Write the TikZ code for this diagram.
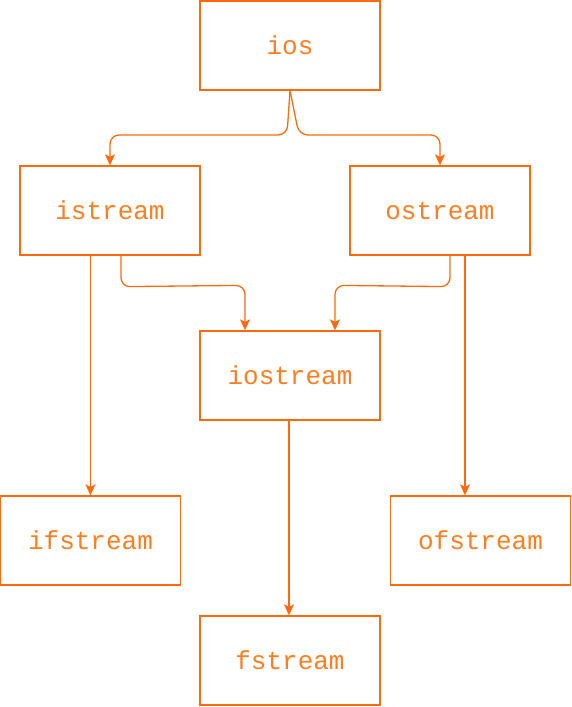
\documentclass[tikz,border=0pt]{standalone}
\usepackage{fontspec}
\setmonofont{Liberation Mono}
\usepackage{tikz}
\usetikzlibrary{positioning, arrows.meta, calc}
\definecolor{streamline}{HTML}{FF6A0D}
\definecolor{streamtext}{HTML}{FF7E22}

\begin{document}
\begin{tikzpicture}[
    x=1pt, y=-1pt,
    cls/.style={rectangle, draw=streamline, line width=1.3pt, fill=white,
                minimum width=180pt, minimum height=89pt, inner sep=0pt,
                text=streamtext, font=\ttfamily\fontsize{26}{30}\selectfont},
    link/.style={draw=streamline, line width=1.3pt, rounded corners=9pt,
                 -{Stealth[length=11pt, width=10pt, inset=2.5pt]}},
  ]
  \useasboundingbox (0,0) rectangle (572,707);

  % Class nodes
  \node[cls] (ios)      at (290,45.5)  {ios};
  \node[cls] (istream)  at (110,210.5) {istream};
  \node[cls] (ostream)  at (440,210.5) {ostream};
  \node[cls] (iostream) at (290,375.5) {iostream};
  \node[cls] (ifstream) at (90.5,540.5) {ifstream};
  \node[cls] (ofstream) at (480.5,540.5) {ofstream};
  \node[cls] (fstream)  at (290,660.5) {fstream};

  % Bends
  \coordinate (bendL) at (287,135);
  \coordinate (bendR) at (299,135);
  \coordinate (inL)   at ([xshift=-45pt]iostream.north);
  \coordinate (inR)   at ([xshift=45pt]iostream.north);
  \coordinate (outL)  at ([xshift=11pt]istream.south);
  \coordinate (outR)  at ([xshift=10pt]ostream.south);
  \coordinate (ofin)  at ([xshift=-15.5pt]ofstream.north);

  % ios -> istream / ostream
  \draw[link] (ios.south) -- (bendL) -- (istream.north |- bendL) -- (istream.north);
  \draw[link] (ios.south) -- (bendR) -- (ostream.north |- bendR) -- (ostream.north);

  % istream / ostream -> iostream
  \draw[link] (outL) -- ($(outL)+(0,31)$) -- ($(inL)+(0,-45)$) -- (inL);
  \draw[link] (outR) -- ($(outR)+(0,31)$) -- ($(inR)+(0,-45)$) -- (inR);

  % Straight links
  \draw[link] (ifstream.north |- istream.south) -- (ifstream.north);
  \draw[link] (ofin |- ostream.south) -- (ofin);
  \draw[link] ([xshift=-1pt]iostream.south) -- ([xshift=-1pt]fstream.north);
\end{tikzpicture}
\end{document}
